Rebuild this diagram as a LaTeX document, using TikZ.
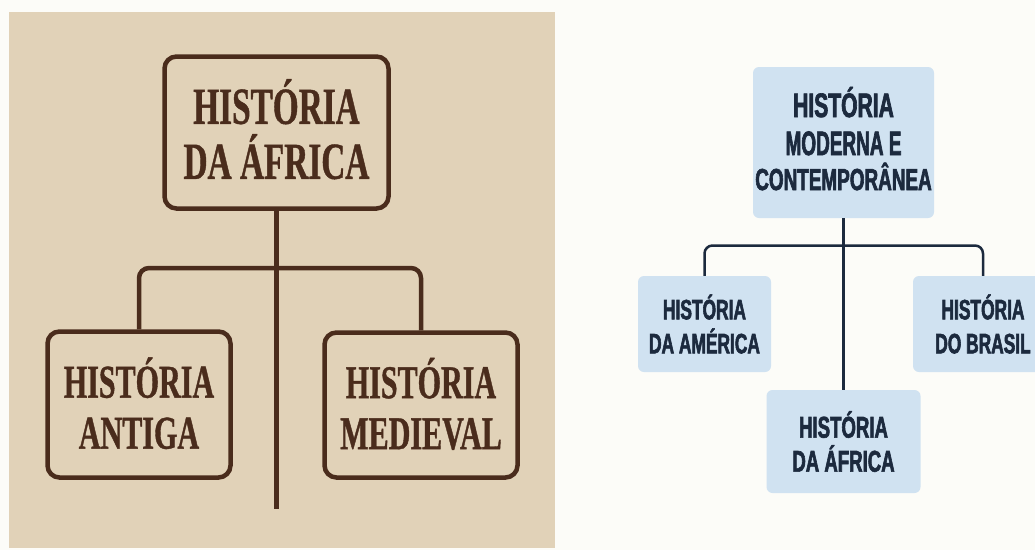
\documentclass[tikz,border=0pt]{standalone}
\usepackage{fontspec}
\newfontfamily\serifhead[FakeStretch=0.64,FakeBold=0.8]{Liberation Serif Bold}
\newfontfamily\sanshead[FakeStretch=0.62,FakeBold=2]{Liberation Sans Bold}
\newcommand\lowpad[1]{\rule[-#1]{0pt}{0pt}}
\definecolor{parchment}{HTML}{E1D2B8}
\definecolor{inkbrown}{HTML}{4A2C1C}
\definecolor{paleblue}{HTML}{D0E2F1}
\definecolor{navyink}{HTML}{1C2A3E}
\definecolor{offwhite}{HTML}{FCFCF8}
\begin{document}
\begin{tikzpicture}[x=1pt,y=-1pt,
   oldbox/.style={draw=inkbrown,line width=4.5pt,rounded corners=12pt,align=center,text=inkbrown,inner sep=0pt},
   oldline/.style={draw=inkbrown,line width=4.5pt},
   bluebox/.style={fill=paleblue,rounded corners=6pt,align=center,text=navyink,inner sep=0pt},
   blueline/.style={draw=navyink,line width=2.5pt}]
   \useasboundingbox (0,0) rectangle (1035,550);
   \clip (0,0) rectangle (1035,550);
   \fill [offwhite] (0,0) rectangle (1035,550);
   \fill [parchment] (9,12) rectangle (555,548);
   % left chart
   \node [oldbox,minimum width=224pt,minimum height=152pt,font={\serifhead\fontsize{52}{55}\selectfont}] (africa) at (276.5,132.5) {HISTÓRIA\\DA ÁFRICA\lowpad{7pt}};
   \node [oldbox,minimum width=183pt,minimum height=146pt,font={\serifhead\fontsize{47}{51}\selectfont}] (antiga) at (139,404.5) {HISTÓRIA\\ANTIGA\lowpad{3pt}};
   \node [oldbox,minimum width=193pt,minimum height=145pt,font={\serifhead\fontsize{47}{51}\selectfont}] (medieval) at (421,405) {HISTÓRIA\\MEDIEVAL\lowpad{3pt}};
   \coordinate (trunkend) at (276.5,509);
   \coordinate (oldbar) at (276.5,268);
   \draw [oldline] (africa.south) -- (trunkend);
   \draw [oldline,rounded corners=10pt] (antiga.north) -- (antiga.north |- oldbar) -- (medieval.north |- oldbar) -- (medieval.north);
   % right chart
   \node [bluebox,minimum width=181pt,minimum height=151pt,font={\sanshead\fontsize{34}{37}\selectfont}] (moderna) at (843.5,142.5) {HISTÓRIA\\[1pt]\scalebox{0.9}[1]{MODERNA E}\\[-2pt]{\fontsize{30.5}{35}\selectfont CONTEMPORÂNEA}\lowpad{8pt}};
   \node [bluebox,minimum width=133pt,minimum height=96pt,font={\sanshead\fontsize{28}{34}\selectfont}] (america) at (704.5,324) {HISTÓRIA\\DA AMÉRICA};
   \node [bluebox,minimum width=140pt,minimum height=96pt,font={\sanshead\fontsize{28}{34}\selectfont}] (brasil) at (983,324) {HISTÓRIA\\DO BRASIL};
   \node [bluebox,minimum width=154pt,minimum height=103pt,font={\sanshead\fontsize{30}{34}\selectfont}] (africab) at (843.5,441.5) {HISTÓRIA\\DA ÁFRICA};
   \coordinate (bluebar) at (843.5,245.5);
   \draw [blueline] (moderna.south) -- (africab.north);
   \draw [blueline,rounded corners=8pt] (america.north) -- (america.north |- bluebar) -- (brasil.north |- bluebar) -- (brasil.north);
\end{tikzpicture}
\end{document}
